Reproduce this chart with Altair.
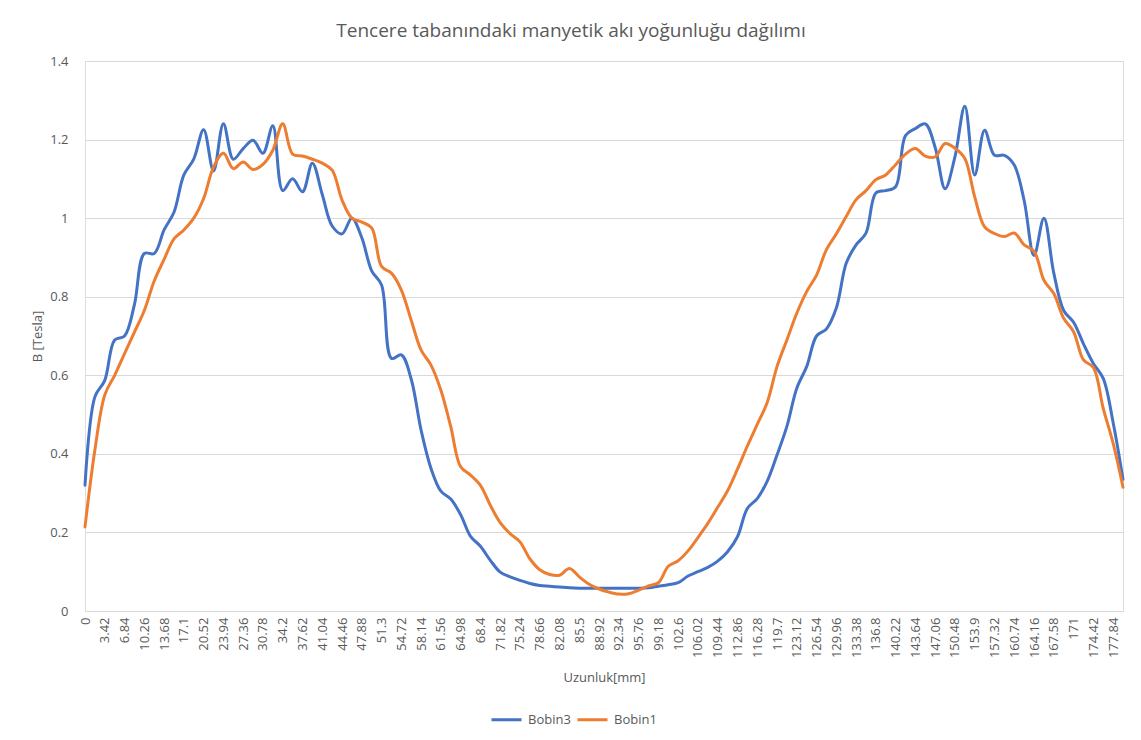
import altair as alt
import pandas as pd

# Category axis: positions along the pot base [mm]
uzunluk = [round(i * 1.71, 2) for i in range(106)]
tick_values = [round(k * 3.42, 2) for k in range(53)]
y_ticks = [0, 0.2, 0.4, 0.6, 0.8, 1.0, 1.2, 1.4]

series_names = ["Bobin3", "Bobin1"]
series_colors = ["#4472C4", "#ED7D31"]

bobin3 = [
    0.32, 0.545, 0.587, 0.69, 0.70, 0.78, 0.91, 0.91, 0.97, 1.015,
    1.11, 1.15, 1.225, 1.12, 1.24, 1.15, 1.177, 1.198, 1.165, 1.235,
    1.07, 1.10, 1.067, 1.14, 1.06, 0.98, 0.96, 1.0, 0.95, 0.866,
    0.83, 0.643, 0.652, 0.59, 0.46, 0.363, 0.305, 0.285, 0.245, 0.19,
    0.165, 0.129, 0.099, 0.087, 0.078, 0.07, 0.065, 0.063, 0.061, 0.059,
    0.058, 0.058, 0.058, 0.058, 0.058, 0.058, 0.058, 0.059, 0.063, 0.067,
    0.072, 0.089, 0.10, 0.111, 0.127, 0.151, 0.189, 0.261, 0.286, 0.33,
    0.397, 0.47, 0.567, 0.622, 0.70, 0.718, 0.771, 0.885, 0.932, 0.962,
    1.064, 1.07, 1.08, 1.21, 1.228, 1.24, 1.18, 1.075, 1.156, 1.285,
    1.11, 1.224, 1.16, 1.16, 1.135, 1.045, 0.905, 1.0, 0.86, 0.765,
    0.735, 0.68, 0.63, 0.592, 0.48, 0.335,
]

bobin1 = [
    0.214, 0.41, 0.55, 0.60, 0.655, 0.71, 0.765, 0.84, 0.895, 0.947,
    0.97, 1.0, 1.05, 1.13, 1.165, 1.126, 1.143, 1.124, 1.137, 1.173,
    1.24, 1.163, 1.158, 1.15, 1.14, 1.122, 1.046, 1.0, 0.99, 0.975,
    0.877, 0.86, 0.817, 0.74, 0.664, 0.626, 0.562, 0.469, 0.367, 0.346,
    0.32, 0.269, 0.225, 0.197, 0.176, 0.133, 0.105, 0.093, 0.091, 0.108,
    0.087, 0.068, 0.056, 0.048, 0.043, 0.044, 0.053, 0.064, 0.072, 0.114,
    0.128, 0.153, 0.187, 0.223, 0.264, 0.306, 0.361, 0.42, 0.475, 0.53,
    0.622, 0.69, 0.758, 0.813, 0.855, 0.92, 0.96, 1.004, 1.047, 1.07,
    1.098, 1.11, 1.136, 1.163, 1.177, 1.158, 1.156, 1.19, 1.178, 1.152,
    1.054, 0.978, 0.961, 0.953, 0.962, 0.932, 0.916, 0.842, 0.808, 0.745,
    0.711, 0.639, 0.62, 0.516, 0.427, 0.315,
]

rows = []
for name, vals in zip(series_names, [bobin3, bobin1]):
    for x, v in zip(uzunluk, vals):
        rows.append({"Uzunluk": x, "Seri": name, "B": v})
df = pd.DataFrame(rows)

FONT = "Open Sans"
GRAY = "#595959"

color_scale = alt.Scale(domain=series_names, range=series_colors)

base = alt.Chart(df).mark_line(
    strokeWidth=3, interpolate="catmull-rom", strokeCap="round", strokeJoin="round"
).encode(
    x=alt.X(
        "Uzunluk:Q",
        scale=alt.Scale(domain=[0, uzunluk[-1]], nice=False, zero=False),
        axis=alt.Axis(
            values=tick_values, format=".2~f", labelAngle=-90, labelAlign="right",
            labelBaseline="middle", labelPadding=6, ticks=False, grid=False,
            domainColor="#d9d9d9", domainWidth=1, labelFontSize=13, labelColor=GRAY,
            labelFont=FONT, labelOverlap=False,
            title="Uzunluk[mm]", titleY=66, titleBaseline="middle", titleFontSize=13,
            titleFontWeight="normal", titleColor=GRAY, titleFont=FONT,
        ),
    ),
    y=alt.Y(
        "B:Q",
        scale=alt.Scale(domain=[0, 1.4], nice=False),
        axis=alt.Axis(
            values=y_ticks, format=".1~f", domain=False, ticks=False,
            gridColor="#d9d9d9", gridWidth=1, labelPadding=17, labelFontSize=13,
            labelColor=GRAY, labelFont=FONT,
            title="B [Tesla]", titleX=-48, titleY=275, titleAngle=-90,
            titleAlign="center", titleBaseline="middle", titleFontSize=13,
            titleFontWeight="normal", titleColor=GRAY, titleFont=FONT,
        ),
    ),
    color=alt.Color(
        "Seri:N", scale=color_scale, sort=series_names,
        legend=alt.Legend(
            title=None, orient="none", legendX=405, legendY=642,
            direction="horizontal", symbolType="stroke", symbolStrokeWidth=3,
            symbolSize=900, labelFontSize=13, labelColor=GRAY, labelFont=FONT,
            columnPadding=0, labelOffset=5,
        ),
    ),
)

chart = alt.layer(
    base.transform_filter(alt.datum.Seri == "Bobin3"),
    base.transform_filter(alt.datum.Seri == "Bobin1"),
).properties(
    width=1038,
    height=550,
    autosize=alt.AutoSizeParams(type="none"),
    padding={"left": 77, "top": 53, "right": 8, "bottom": 118},
    title=alt.TitleParams(
        "Tencere tabanındaki manyetik akı yoğunluğu dağılımı",
        anchor="middle", dx=-33, offset=14, fontSize=19, font=FONT,
        color=GRAY, fontWeight="normal",
    ),
).configure_view(stroke=None).configure(font=FONT)

chart.save("out.html", embed_options={"renderer": "svg", "actions": False})
